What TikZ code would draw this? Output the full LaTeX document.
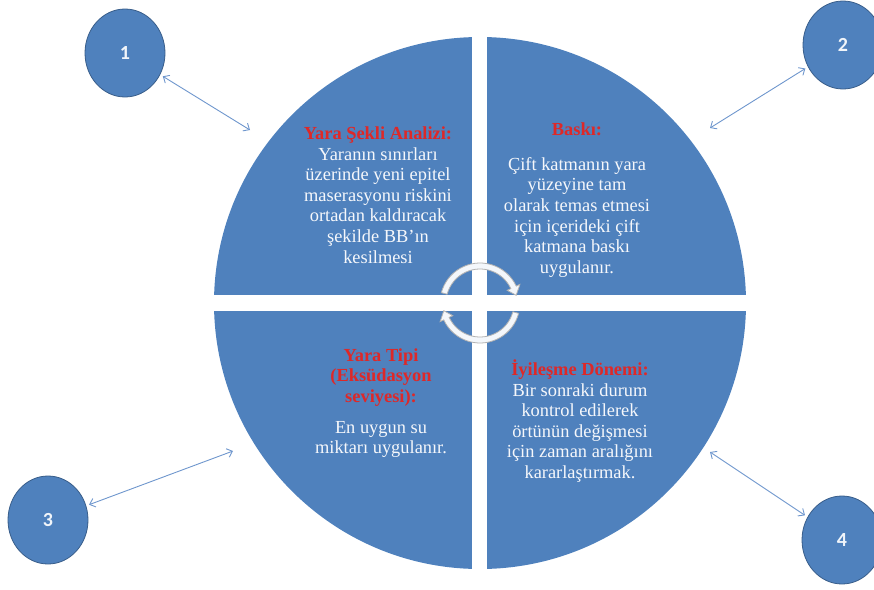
\documentclass[tikz,border=0pt]{standalone}
\usepackage{fontspec}
\setmainfont{Liberation Serif}
\newfontfamily\numfont{Carlito}
\usetikzlibrary{shapes.geometric,arrows.meta}
\definecolor{qblue}{RGB}{79,129,189}
\definecolor{qedge}{RGB}{56,93,138}
\definecolor{qred}{RGB}{222,40,40}
\definecolor{lnk}{RGB}{110,150,205}
\begin{document}
\begin{tikzpicture}[x=1pt,y=-1pt,
 numc/.style={ellipse, fill=qblue, draw=qedge, line width=0.8pt, minimum width=80pt, minimum height=88pt, inner sep=0pt, text=white!92!qblue, font=\numfont\bfseries\fontsize{20}{22}\selectfont},
 link/.style={draw=lnk, line width=0.9pt, {Straight Barb[length=5pt,width=9pt]}-{Straight Barb[length=5pt,width=9pt]}, shorten <=3pt},
 qtext/.style={align=center, text=white!94!qblue, font=\fontsize{18.4}{20.6}\selectfont, inner sep=0pt},
 ringarrow/.style={fill=white!94!qblue, draw=gray!60, line width=0.8pt}
]
\useasboundingbox (0,0) rectangle (874,589);
% main circle split in four quadrants
\node[circle, fill=qblue, minimum size=532pt, inner sep=0pt] (main) at (480,303) {};
\fill[white] (472,30) rectangle (487,576);
\fill[white] (205,295) rectangle (755,311);
% quadrant texts
\node[qtext] (q1) at (378,195) {{\color{qred}\bfseries Yara Şekli Analizi:}\\Yaranın sınırları\\üzerinde yeni epitel\\maserasyonu riskini\\ortadan kaldıracak\\şekilde BB’ın\\kesilmesi};
\node[qtext] (q2) at (577,200) {{\color{qred}\bfseries Baskı:}\\[14pt]Çift katmanın yara\\yüzeyine tam\\olarak temas etmesi\\için içerideki çift\\katmana baskı\\uygulanır.};
\node[qtext] (q3) at (381,403) {{\color{qred}\bfseries Yara Tipi}\\{\color{qred}\bfseries (Eksüdasyon}\\{\color{qred}\bfseries seviyesi):}\\[10pt]En uygun su\\miktarı uygulanır.};
\node[qtext] (q4) at (580,421) {{\color{qred}\bfseries İyileşme Dönemi:}\\Bir sonraki durum\\kontrol edilerek\\örtünün değişmesi\\için zaman aralığını\\kararlaştırmak.};
% central cycle arrows
\filldraw[ringarrow, shift={(main.center)}] (-165:40) arc[start angle=-165, end angle=-25, radius=40] -- (-25:44) -- (-12:37) -- (-25:30) -- (-25:34) arc[start angle=-25, end angle=-165, radius=34] -- cycle;
\filldraw[ringarrow, shift={(main.center)}] (15:40) arc[start angle=15, end angle=155, radius=40] -- (155:44) -- (168:37) -- (155:30) -- (155:34) arc[start angle=155, end angle=15, radius=34] -- cycle;
% numbered circles
\node[numc] (n1) at (125,53) {1};
\node[numc] (n2) at (843,45) {2};
\node[numc] (n3) at (48,520) {3};
\node[numc] (n4) at (842,540) {4};
\coordinate (a1) at (250,130);
\coordinate (a2) at (710,128);
\coordinate (a3) at (233,451);
\coordinate (a4) at (710,452);
\draw[link] (n1) -- (a1);
\draw[link] (n2) -- (a2);
\draw[link] (n3) -- (a3);
\draw[link] (n4) -- (a4);
\end{tikzpicture}
\end{document}
